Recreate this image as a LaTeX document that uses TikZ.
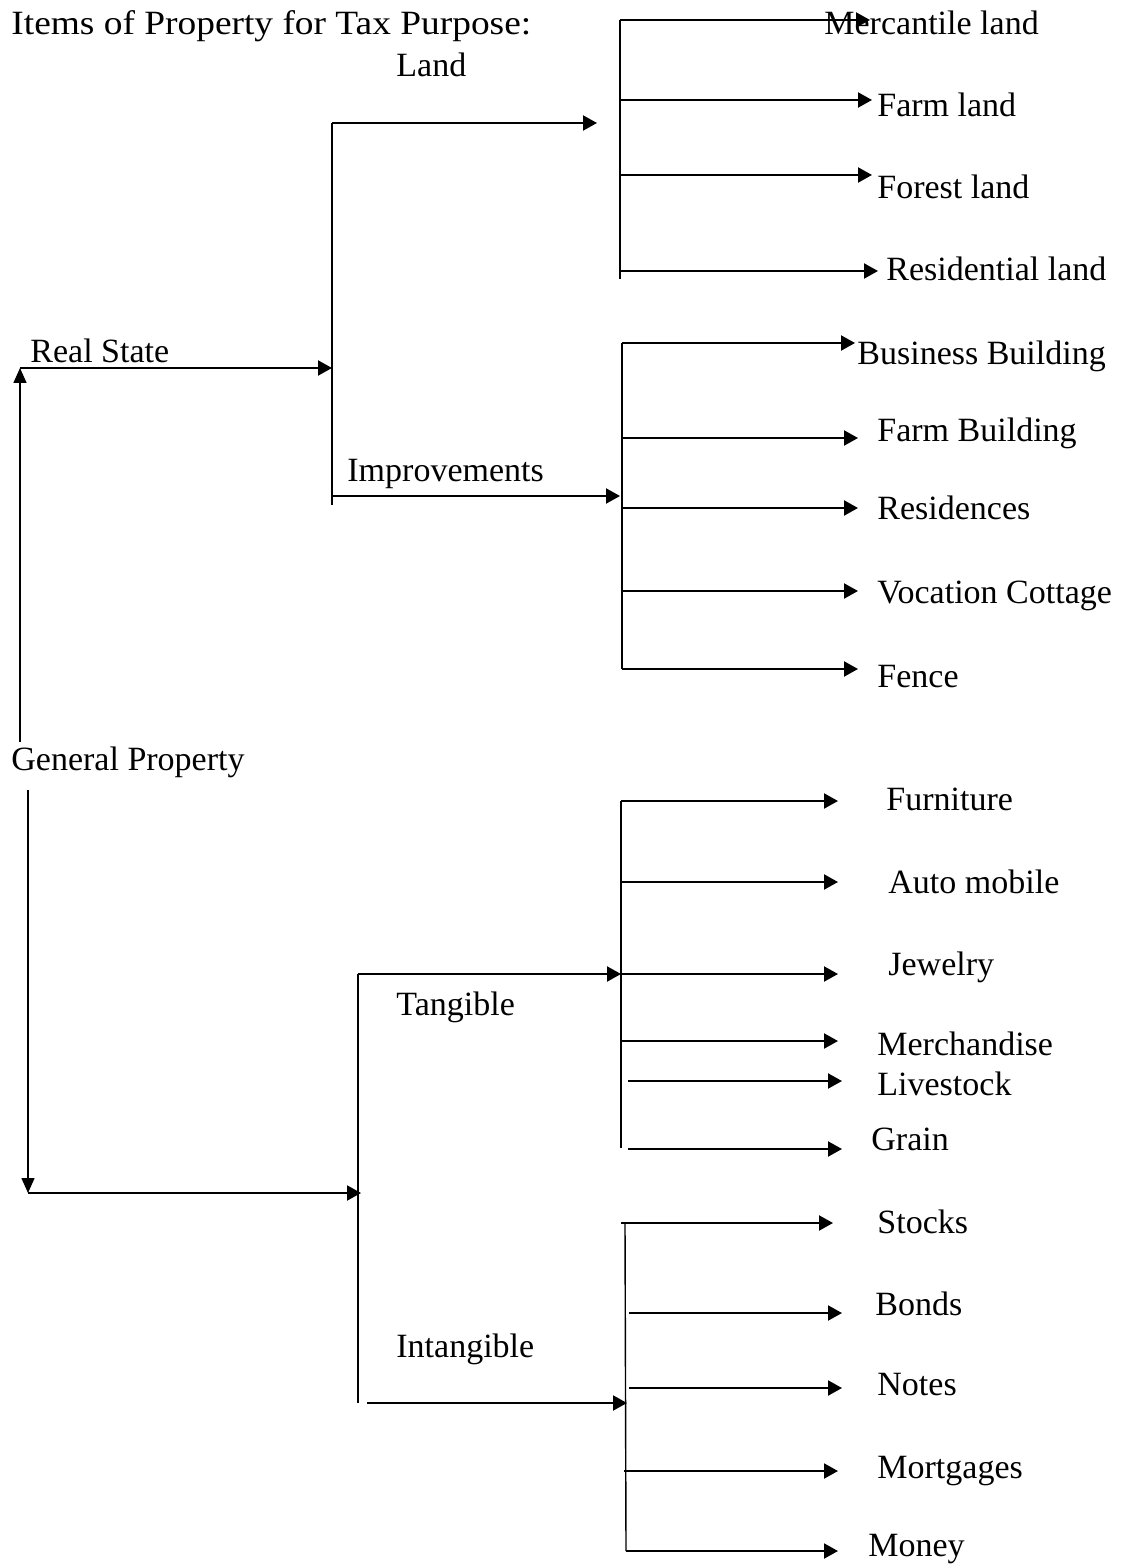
\documentclass[tikz,border=0pt]{standalone}
\usepackage{fontspec}
\setmainfont{Liberation Serif}
\usetikzlibrary{arrows.meta}
\begin{document}
\begin{tikzpicture}[x=0.5pt,y=-0.5pt,
  lbl/.style={anchor=base west,inner sep=0pt,font=\fontsize{17}{20}\selectfont},
  arr/.style={-{Triangle[length=7pt,width=7.5pt]},line width=1.05pt},
  tarr/.style={-{Triangle[length=7.5pt,width=6.5pt]},line width=0.75pt},
  bar/.style={line width=0.7pt}]
\useasboundingbox (0,0) rectangle (1130,1566);

% ---------- texts ----------
\node[lbl] (title) at (11,35) {\scalebox{1.1}[1]{Items of Property for Tax Purpose:}};
\node[lbl] (land) at (396,77) {Land};
\node[lbl] (merc) at (824,35) {Mercantile land};
\node[lbl] (farmland) at (877,117) {Farm land};
\node[lbl] (forest) at (877,199) {Forest land};
\node[lbl] (resland) at (886,281) {Residential land};
\node[lbl] (realstate) at (30,363) {Real State};
\node[lbl] (busbld) at (857,365) {Business Building};
\node[lbl] (farmbld) at (877,442) {Farm Building};
\node[lbl] (improv) at (347,482) {Improvements};
\node[lbl] (resid) at (877,520) {Residences};
\node[lbl] (vocation) at (877,603) {Vocation Cottage};
\node[lbl] (fence) at (877,687) {Fence};
\node[lbl] (general) at (11,770) {General Property};
\node[lbl] (furn) at (886,810) {Furniture};
\node[lbl] (auto) at (888,893) {Auto mobile};
\node[lbl] (jewel) at (888,975) {Jewelry};
\node[lbl] (tang) at (396,1015) {Tangible};
\node[lbl] (merch) at (877,1055) {Merchandise};
\node[lbl] (live) at (877,1095) {Livestock};
\node[lbl] (grain) at (871,1150) {Grain};
\node[lbl] (stocks) at (877,1233) {Stocks};
\node[lbl] (bonds) at (875,1315) {Bonds};
\node[lbl] (intang) at (396,1357) {Intangible};
\node[lbl] (notes) at (877,1395) {Notes};
\node[lbl] (mort) at (877,1478) {Mortgages};
\node[lbl] (money) at (868,1556) {Money};

% ---------- coordinates ----------
\coordinate (gpUp) at (20,742);
\coordinate (rsC) at (20,368);
\coordinate (rsT) at (332,368);
\coordinate (reTop) at (332,123);
\coordinate (reBot) at (332,505);
\coordinate (landT) at (597,123);
\coordinate (impS) at (332,496);
\coordinate (impT) at (620,496);
\coordinate (lbTop) at (620,20);
\coordinate (lbBot) at (620,279);
\coordinate (l1) at (620,20);  \coordinate (l1t) at (870,20);
\coordinate (l2) at (620,100); \coordinate (l2t) at (872,100);
\coordinate (l3) at (620,175); \coordinate (l3t) at (872,175);
\coordinate (l4) at (620,271); \coordinate (l4t) at (878,271);
\coordinate (ibTop) at (622,343);
\coordinate (ibBot) at (622,669);
\coordinate (i1) at (622,343); \coordinate (i1t) at (855,343);
\coordinate (i2) at (622,438); \coordinate (i2t) at (858,438);
\coordinate (i3) at (622,508); \coordinate (i3t) at (858,508);
\coordinate (i4) at (622,591); \coordinate (i4t) at (858,591);
\coordinate (i5) at (622,669); \coordinate (i5t) at (858,669);
\coordinate (gpDn) at (28,790);
\coordinate (ppC) at (28,1193);
\coordinate (ppT) at (361,1193);
\coordinate (pbTop) at (358,974);
\coordinate (pbBot) at (358,1403);
\coordinate (tangT) at (621,974);
\coordinate (intS) at (367,1403);
\coordinate (intT) at (627,1403);
\coordinate (tbTop) at (621,801);
\coordinate (tbBot) at (621,1148);
\coordinate (t1) at (621,801);  \coordinate (t1t) at (838,801);
\coordinate (t2) at (621,882);  \coordinate (t2t) at (838,882);
\coordinate (t3) at (621,974);  \coordinate (t3t) at (838,974);
\coordinate (t4) at (621,1041); \coordinate (t4t) at (838,1041);
\coordinate (t5) at (628,1081); \coordinate (t5t) at (842,1081);
\coordinate (t6) at (628,1149); \coordinate (t6t) at (842,1149);
\coordinate (nbTop) at (625,1223);
\coordinate (nbBot) at (626,1551);
\coordinate (n1) at (621,1223); \coordinate (n1t) at (833,1223);
\coordinate (n2) at (629,1313); \coordinate (n2t) at (842,1313);
\coordinate (n3) at (629,1388); \coordinate (n3t) at (842,1388);
\coordinate (n4) at (624,1471); \coordinate (n4t) at (838,1471);
\coordinate (n5) at (626,1551); \coordinate (n5t) at (838,1551);

% ---------- connectors ----------
\draw[tarr] (gpUp) -- (rsC);
\draw[arr] (rsC) -- (rsT);
\draw[bar] (reTop) -- (reBot);
\draw[arr] (reTop) -- (landT);
\draw[arr] (impS) -- (impT);

\draw[bar] (lbTop) -- (lbBot);
\draw[arr] (l1) -- (l1t);
\draw[arr] (l2) -- (l2t);
\draw[arr] (l3) -- (l3t);
\draw[arr] (l4) -- (l4t);

\draw[bar] (ibTop) -- (ibBot);
\draw[arr] (i1) -- (i1t);
\draw[arr] (i2) -- (i2t);
\draw[arr] (i3) -- (i3t);
\draw[arr] (i4) -- (i4t);
\draw[arr] (i5) -- (i5t);

\draw[tarr] (gpDn) -- (ppC);
\draw[arr] (ppC) -- (ppT);
\draw[bar] (pbTop) -- (pbBot);
\draw[arr] (pbTop) -- (tangT);
\draw[arr] (intS) -- (intT);

\draw[bar] (tbTop) -- (tbBot);
\draw[arr] (t1) -- (t1t);
\draw[arr] (t2) -- (t2t);
\draw[arr] (t3) -- (t3t);
\draw[arr] (t4) -- (t4t);
\draw[arr] (t5) -- (t5t);
\draw[arr] (t6) -- (t6t);

\draw[bar] (nbTop) -- (nbBot);
\draw[arr] (n1) -- (n1t);
\draw[arr] (n2) -- (n2t);
\draw[arr] (n3) -- (n3t);
\draw[arr] (n4) -- (n4t);
\draw[arr] (n5) -- (n5t);
\end{tikzpicture}
\end{document}
